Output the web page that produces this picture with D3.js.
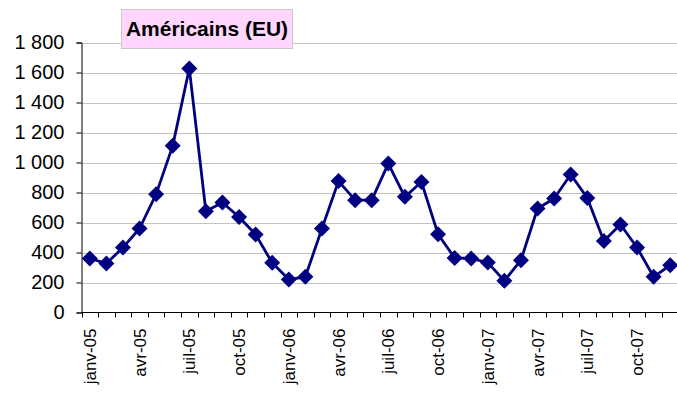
<!DOCTYPE html>
<html>
<head>
<meta charset="utf-8">
<script src="https://cdn.jsdelivr.net/npm/d3@7"></script>
<style>
  html, body { margin: 0; padding: 0; background: #fff; }
  svg { display: block; font-family: "Liberation Sans", Arial, sans-serif; }
</style>
</head>
<body>
<svg id="chart" width="677" height="394"></svg>
<script>
// Monthly arrivals, January 2005 to December 2007
const months = [
  "janv-05","févr-05","mars-05","avr-05","mai-05","juin-05","juil-05","août-05","sept-05","oct-05","nov-05","déc-05",
  "janv-06","févr-06","mars-06","avr-06","mai-06","juin-06","juil-06","août-06","sept-06","oct-06","nov-06","déc-06",
  "janv-07","févr-07","mars-07","avr-07","mai-07","juin-07","juil-07","août-07","sept-07","oct-07","nov-07","déc-07"
];
const visitors = [
  360, 327, 433, 560, 789, 1111, 1627, 675, 733, 637, 520, 331,
  220, 238, 560, 876, 749, 749, 993, 771, 870, 522, 364, 360,
  333, 211, 349, 693, 760, 920, 764, 477, 587, 433, 238, 315
];
const yTicks = [0, 200, 400, 600, 800, 1000, 1200, 1400, 1600, 1800];
const shownLabels = ["janv-05","avr-05","juil-05","oct-05","janv-06","avr-06","juil-06","oct-06","janv-07","avr-07","juil-07","oct-07"];
const title = "Américains (EU)";

const svg = d3.select("#chart");
const plotLeft = 81.5, plotRight = 678.5, plotTop = 42.5, plotBottom = 312.5;

const x = d3.scaleBand().domain(months).range([plotLeft, plotRight]).paddingInner(0).paddingOuter(0);
const y = d3.scaleLinear().domain([0, 1800]).range([plotBottom, plotTop]);

const fmt = v => d3.format(",")(v).replace(/,/g, " ");

// horizontal gridlines
svg.append("g")
  .selectAll("line")
  .data(yTicks.filter(d => d > 0))
  .join("line")
  .attr("x1", plotLeft).attr("x2", 677)
  .attr("y1", d => Math.round(y(d)) + 0.5).attr("y2", d => Math.round(y(d)) + 0.5)
  .attr("stroke", "#c0c0c0").attr("stroke-width", 1);

// y axis
const yAxis = svg.append("g")
  .attr("transform", `translate(${plotLeft},0)`)
  .call(d3.axisLeft(y).tickValues(yTicks).tickFormat(fmt).tickSize(5).tickPadding(12));
yAxis.select(".domain").attr("stroke", "#000");
yAxis.selectAll(".tick line").attr("stroke", "#000");
yAxis.selectAll(".tick text")
  .attr("font-size", 20).attr("fill", "#000")
  .attr("font-family", "'Liberation Sans', Arial, sans-serif");

// x axis: tick marks at category boundaries
svg.append("line")
  .attr("x1", plotLeft).attr("x2", 677).attr("y1", plotBottom).attr("y2", plotBottom)
  .attr("stroke", "#000");
svg.append("g")
  .selectAll("line")
  .data(months)
  .join("line")
  .attr("x1", d => Math.round(x(d)) + 0.5).attr("x2", d => Math.round(x(d)) + 0.5)
  .attr("y1", plotBottom).attr("y2", plotBottom + 5)
  .attr("stroke", "#000");

// rotated month labels
svg.append("g")
  .selectAll("text")
  .data(shownLabels)
  .join("text")
  .attr("transform", d => `translate(${x(d) + x.bandwidth() / 2 + 6},${plotBottom + 16}) rotate(-90)`)
  .attr("text-anchor", "end")
  .attr("font-size", 17)
  .attr("fill", "#000")
  .text(d => d);

// series line
const line = d3.line()
  .x((d, i) => x(months[i]) + x.bandwidth() / 2)
  .y(d => y(d));
svg.append("path")
  .datum(visitors)
  .attr("d", line)
  .attr("fill", "none")
  .attr("stroke", "#000080")
  .attr("stroke-width", 2.8)
  .attr("stroke-linejoin", "round");

// diamond markers
const r = 8;
svg.append("g")
  .selectAll("path")
  .data(visitors)
  .join("path")
  .attr("d", (d, i) => {
    const cx = x(months[i]) + x.bandwidth() / 2, cy = y(d);
    return `M${cx},${cy - r}L${cx + r},${cy}L${cx},${cy + r}L${cx - r},${cy}Z`;
  })
  .attr("fill", "#000080");

// title box
const tg = svg.append("g");
tg.append("rect")
  .attr("x", 121.5).attr("y", 9.5).attr("width", 171).attr("height", 39)
  .attr("fill", "#ffd6fe").attr("stroke", "#c8c8c8").attr("stroke-width", 1);
tg.append("text")
  .attr("x", 207).attr("y", 36)
  .attr("text-anchor", "middle")
  .attr("font-size", 21).attr("font-weight", "bold")
  .attr("fill", "#000")
  .text(title);
</script>
</body>
</html>
